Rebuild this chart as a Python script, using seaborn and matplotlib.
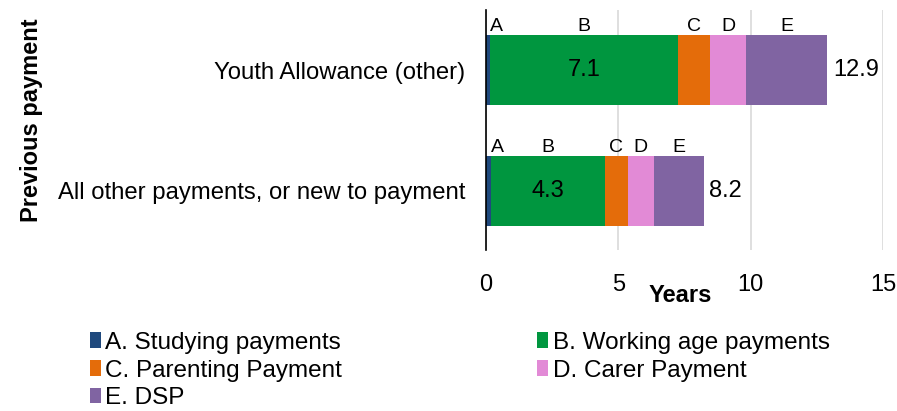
import matplotlib
matplotlib.use("Agg")
import matplotlib.pyplot as plt
import seaborn as sns
from matplotlib.patches import Patch

# values (years)
categories = ["Youth Allowance (other)", "All other payments, or new to payment"]
studying = [0.15, 0.20]
working = [7.10, 4.30]
parenting = [1.23, 0.85]
carer = [1.34, 1.00]
dsp = [3.08, 1.88]

series_names = ["A. Studying payments", "B. Working age payments",
                "C. Parenting Payment", "D. Carer Payment", "E. DSP"]
letters = ["A", "B", "C", "D", "E"]
colors = ["#1F497D", "#00963F", "#E46C0A", "#E28AD6", "#8064A2"]

sns.set_theme(style="white")
plt.rcParams["font.family"] = ["Liberation Sans", "DejaVu Sans"]
plt.rcParams["text.color"] = "black"

fig = plt.figure(figsize=(8.97, 4.11), dpi=100)
ax = fig.add_axes([0.5418, 0.3917, 0.4426, 0.584])

series = [studying, working, parenting, carer, dsp]
# cumulative right edges of each segment
cum = []
running = [0.0] * len(categories)
for s in series:
    running = [r + v for r, v in zip(running, s)]
    cum.append(running)

# draw longest first so shorter stacks sit on top
for i in range(len(series) - 1, -1, -1):
    sns.barplot(x=cum[i], y=categories, color=colors[i], orient="h",
                width=0.58, saturation=1, linewidth=0, errorbar=None, ax=ax)

ax.set_xlim(0, 15)
ax.set_ylim(1.49, -0.5)
ax.set_xticks([0, 5, 10, 15])
ax.grid(axis="x", color="#D9D9D9", linewidth=1.2)
ax.grid(axis="y", visible=False)
ax.set_axisbelow(True)
for side in ["top", "right", "bottom"]:
    ax.spines[side].set_visible(False)
ax.spines["left"].set_color("black")
ax.spines["left"].set_linewidth(1.2)
ax.tick_params(axis="x", length=0, pad=17, labelsize=17, labelcolor="black")
ax.tick_params(axis="y", length=0, pad=15, labelsize=17.2, labelcolor="black")

ax.set_xlabel("Years", fontsize=17, fontweight="bold", color="black")
ax.xaxis.set_label_coords(0.49, -0.14)
ax.set_ylabel("Previous payment", fontsize=17, fontweight="bold", color="black")
ax.yaxis.set_label_coords(-1.116, 0.54)

# segment letters, B values and totals
for j in range(len(categories)):
    starts = [0.0] + [cum[i][j] for i in range(len(series) - 1)]
    for i, let in enumerate(letters):
        if i == 0:
            xpos, ha = cum[0][j], "left"
        else:
            xpos, ha = (starts[i] + cum[i][j]) / 2, "center"
        ax.annotate(let, (xpos, j - 0.29), xytext=(0, 3), textcoords="offset points",
                    ha=ha, va="baseline", fontsize=14, color="black")
    ax.text((starts[1] + cum[1][j]) / 2, j, f"{working[j]:.1f}",
            ha="center", va="center", fontsize=17, color="black")
    ax.annotate(f"{cum[-1][j]:.1f}", (cum[-1][j], j), xytext=(4, 0),
                textcoords="offset points", ha="left", va="center",
                fontsize=17, color="black")

# legend reads row by row: A B / C D / E
order = [0, 2, 4, 1, 3]
handles = [Patch(facecolor=colors[k], edgecolor="none") for k in order]
labels = [series_names[k] for k in order]
fig.legend(handles, labels, ncol=2, loc="upper left",
           bbox_to_anchor=(0.1, 0.193), frameon=False, fontsize=17.5,
           handlelength=0.45, handleheight=0.6, handletextpad=0.2,
           columnspacing=8.0, labelspacing=0.24, borderpad=0, borderaxespad=0)

fig.savefig("out.png", dpi=100)
